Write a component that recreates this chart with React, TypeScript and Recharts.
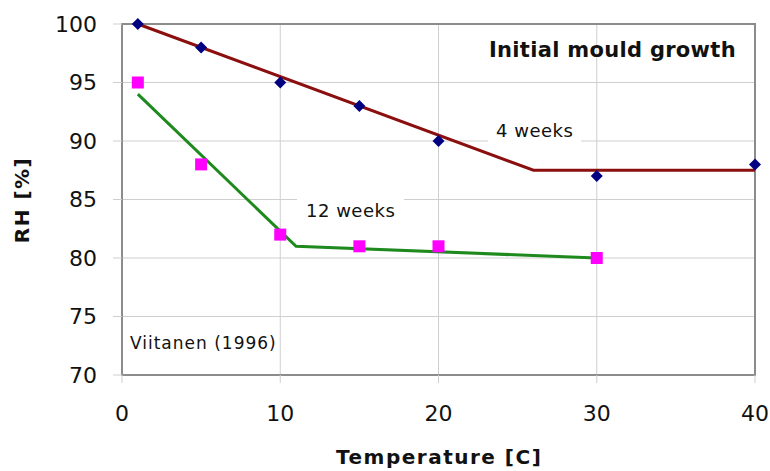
import { ScatterChart, Scatter, XAxis, YAxis, CartesianGrid, ReferenceArea } from 'recharts'

const temps4 = [1, 5, 10, 15, 20, 30, 40]
const rh4 = [100, 98, 95, 93, 90, 87, 88]
const temps12 = [1, 5, 10, 15, 20, 30]
const rh12 = [95, 88, 82, 81, 81, 80]
const fit4X = [1, 26, 40]
const fit4Y = [100, 87.5, 87.5]
const fit12X = [1, 11, 30]
const fit12Y = [94, 81, 80]
const xTicks = [0, 10, 20, 30, 40]
const yTicks = [70, 75, 80, 85, 90, 95, 100]

const pts = (xs: number[], ys: number[]) => xs.map((x, i) => ({ x, y: ys[i] }))

const points4 = pts(temps4, rh4)
const points12 = pts(temps12, rh12)
const line4 = pts(fit4X, fit4Y)
const line12 = pts(fit12X, fit12Y)

const FONT = '"DejaVu Sans", sans-serif'

function Diamond({ cx, cy }: any) {
  const r = 6
  return <path d={`M${cx},${cy - r}L${cx + r},${cy}L${cx},${cy + r}L${cx - r},${cy}Z`} fill="#000080" />
}

function Square({ cx, cy }: any) {
  const r = 6
  return <rect x={cx - r} y={cy - r} width={r * 2} height={r * 2} fill="#ff00ff" />
}

const noShape = () => <g />

const note = (extra: React.CSSProperties): React.CSSProperties => ({
  position: 'absolute',
  fontFamily: FONT,
  color: '#111',
  whiteSpace: 'nowrap',
  ...extra,
})

export default function App() {
  return (
    <div style={{ position: 'absolute', left: 0, top: 0, width: 770, height: 471, background: '#fff' }}>
      <ScatterChart width={770} height={471} margin={{ top: 24, right: 15, bottom: 56, left: 62 }}>
        <CartesianGrid stroke="#cfcfcf" strokeWidth={1} horizontalValues={yTicks} verticalValues={xTicks} />
        <XAxis
          type="number"
          dataKey="x"
          domain={[0, 40]}
          ticks={xTicks}
          axisLine={false}
          tickLine={{ stroke: '#cfcfcf' }}
          tickSize={8}
          tickMargin={22}
          height={40}
          tick={{ fill: '#111', fontSize: 22, fontFamily: FONT }}
        />
        <YAxis
          type="number"
          dataKey="y"
          domain={[70, 100]}
          ticks={yTicks}
          axisLine={false}
          tickLine={{ stroke: '#cfcfcf' }}
          tickSize={9}
          tickMargin={16}
          width={60}
          tick={{ fill: '#111', fontSize: 22, fontFamily: FONT }}
        />
        <ReferenceArea x1={0} x2={40} y1={70} y2={100} fill="none" stroke="#8c8c8c" strokeWidth={2} ifOverflow="visible" />
        <Scatter data={line4} line={{ stroke: '#8b0f0f', strokeWidth: 3 }} shape={noShape} isAnimationActive={false} />
        <Scatter data={line12} line={{ stroke: '#1e8a1e', strokeWidth: 3 }} shape={noShape} isAnimationActive={false} />
        <Scatter data={points4} shape={<Diamond />} isAnimationActive={false} />
        <Scatter data={points12} shape={<Square />} isAnimationActive={false} />
      </ScatterChart>

      <div style={note({ left: 489, top: 38, fontSize: 21, fontWeight: 'bold', letterSpacing: 0.3 })}>Initial mould growth</div>
      <div style={note({ left: 488, top: 118, fontSize: 18, letterSpacing: 0.5, background: '#fff', padding: '2px 8px' })}>4 weeks</div>
      <div style={note({ left: 297, top: 198, fontSize: 18, letterSpacing: 0.5, background: '#fff', padding: '2px 9px' })}>12 weeks</div>
      <div style={note({ left: 130, top: 333, fontSize: 17, letterSpacing: 1 })}>Viitanen (1996)</div>
      <div style={note({ left: 336, top: 445, fontSize: 20, fontWeight: 'bold', letterSpacing: 1.5 })}>Temperature [C]</div>
      <div
        style={note({
          left: 22,
          top: 200,
          fontSize: 20,
          fontWeight: 'bold',
          letterSpacing: 1.5,
          transform: 'translate(-50%, -50%) rotate(-90deg)',
        })}
      >
        RH [%]
      </div>
    </div>
  )
}
